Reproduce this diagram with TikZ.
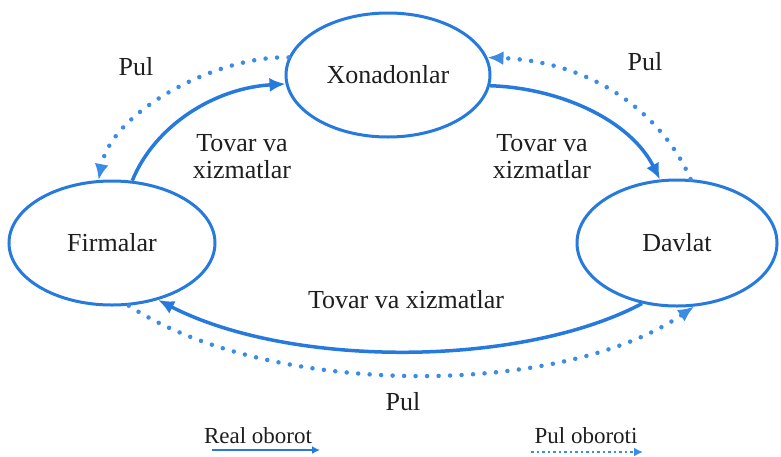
\documentclass[tikz,border=0pt]{standalone}
\usepackage{fontspec}
\setmainfont{Liberation Serif}
\usetikzlibrary{arrows.meta,shapes.geometric}
\definecolor{flow}{RGB}{38,122,222}
\definecolor{dotc}{RGB}{60,140,230}
\definecolor{txt}{RGB}{30,30,30}
\begin{document}
\begin{tikzpicture}[x=1pt,y=-1pt,
  sector/.style={ellipse, draw=flow, line width=3pt, inner sep=0pt, text=txt, font=\fontsize{26}{28}\selectfont},
  lbl/.style={text=txt, font=\fontsize{26}{27}\selectfont, align=center, inner sep=0pt},
  leg/.style={text=txt, font=\fontsize{23}{25}\selectfont, inner sep=0pt},
  realflow/.style={draw=flow, line width=3.5pt, -{Latex[length=16pt,width=14pt]}},
  moneyflow/.style={draw=dotc, line width=4.5pt, line cap=round, dash pattern=on 0pt off 11.5pt, -{Latex[length=16pt,width=14pt]}},
  legreal/.style={draw=flow, line width=2.6pt, -{Latex[length=8pt,width=8pt]}},
  legmoney/.style={draw=dotc, line width=2.6pt, dash pattern=on 2.5pt off 3pt, -{Latex[length=9pt,width=9pt]}}]
\useasboundingbox (0,0) rectangle (781,456);
\node[sector, minimum width=204pt, minimum height=124pt] (X) at (388,75) {Xonadonlar};
\node[sector, minimum width=206pt, minimum height=124pt] (F) at (112,243) {Firmalar};
\node[sector, minimum width=200pt, minimum height=126pt] (D) at (677,243) {Davlat};

\node[lbl] (pl) at (136,67) {Pul};
\node[lbl] (pr) at (645,62) {Pul};
\node[lbl] (pb) at (403,402) {Pul};
\node[lbl] (tl) at (242,157) {Tovar va\\xizmatlar};
\node[lbl] (tr) at (542,157) {Tovar va\\xizmatlar};
\node[lbl] (tb) at (406,300) {Tovar va xizmatlar};

% real flows
\draw[realflow] (F.72) .. controls (155,125) and (215,88) .. (X.185);
\draw[realflow] (X.354) .. controls (560,88) and (630,120) .. (D.105);
\draw[realflow] (D.240) .. controls (520,368) and (290,368) .. (F.309);
% money flows
\draw[moneyflow] (X.170) .. controls (220,55) and (112,110) .. (F.102);
\draw[moneyflow] (D.78) .. controls (665,120) and (600,62) .. (X.10);
\draw[moneyflow] (F.285) .. controls (270,398) and (560,398) .. (D.285);

% legend
\node[leg] (lr) at (258,436) {Real oborot};
\node[leg] (lp) at (586,436) {Pul oboroti};
\coordinate (lr1) at (212,450);
\coordinate (lr2) at (320,450);
\coordinate (lp1) at (531,452);
\coordinate (lp2) at (643,452);
\draw[legreal] (lr1) -- (lr2);
\draw[legmoney] (lp1) -- (lp2);
\end{tikzpicture}
\end{document}
